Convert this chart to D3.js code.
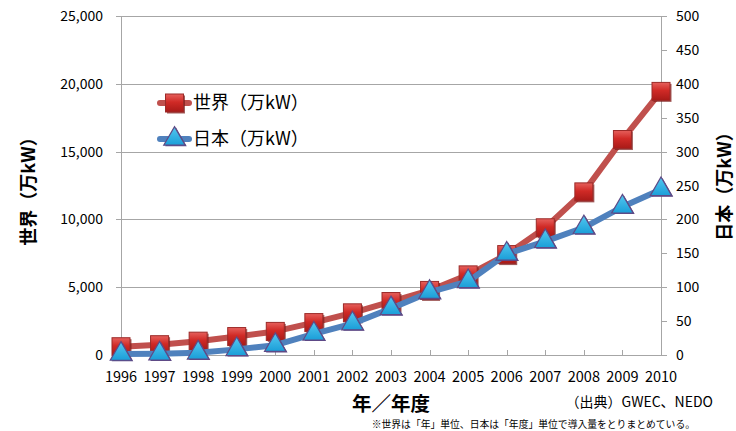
<!DOCTYPE html>
<html>
<head>
<meta charset="utf-8">
<script src="https://cdn.jsdelivr.net/npm/d3@7"></script>
<style>
  html, body { margin: 0; padding: 0; background: #fff; }
  svg { display: block; font-family: "Noto Sans CJK JP", "Noto Sans", sans-serif; }
</style>
</head>
<body>
<svg id="chart" width="736" height="431"></svg>
<script>
// 風力発電 累積導入量
const years = ["1996","1997","1998","1999","2000","2001","2002","2003","2004","2005","2006","2007","2008","2009","2010"];
const worldValues = [610, 760, 1020, 1360, 1740, 2390, 3110, 3943, 4762, 5909, 7405, 9382, 12029, 15891, 19439];
const japanValues = [1.4, 1.8, 3.2, 8.3, 14.4, 31.2, 46.3, 68.6, 92.6, 108.5, 149.1, 167.5, 188.0, 218.6, 244.2];
const leftTicks = [0, 5000, 10000, 15000, 20000, 25000];
const rightTicks = [0, 50, 100, 150, 200, 250, 300, 350, 400, 450, 500];
const worldLabel = "世界（万kW）";
const japanLabel = "日本（万kW）";

const svg = d3.select("#chart");
const plot = { left: 121, right: 661, top: 16, bottom: 355 };

const x = d3.scalePoint().domain(years).range([plot.left, plot.right]).padding(0);
const yL = d3.scaleLinear().domain([0, 25000]).range([plot.bottom, plot.top]);
const yR = d3.scaleLinear().domain([0, 500]).range([plot.bottom, plot.top]);

const defs = svg.append("defs");
const sq = defs.append("linearGradient").attr("id", "sqGrad").attr("x1", 0).attr("y1", 0).attr("x2", 0).attr("y2", 1);
sq.append("stop").attr("offset", "0%").attr("stop-color", "#e6605c");
sq.append("stop").attr("offset", "45%").attr("stop-color", "#d02a26");
sq.append("stop").attr("offset", "100%").attr("stop-color", "#a81a18");
const tri = defs.append("linearGradient").attr("id", "triGrad").attr("x1", 0).attr("y1", 0).attr("x2", 0).attr("y2", 1);
tri.append("stop").attr("offset", "0%").attr("stop-color", "#55c8f0");
tri.append("stop").attr("offset", "100%").attr("stop-color", "#1a9ed8");

// gridlines (left axis)
const gridColor = "#a6a6a6";
svg.append("g").selectAll("line").data(leftTicks).join("line")
  .attr("x1", plot.left - 5).attr("x2", plot.right)
  .attr("y1", d => Math.round(yL(d)) + 0.5).attr("y2", d => Math.round(yL(d)) + 0.5)
  .attr("stroke", gridColor).attr("stroke-width", 1);

// axis lines
svg.append("line").attr("x1", plot.left + 0.5).attr("x2", plot.left + 0.5)
  .attr("y1", plot.top).attr("y2", plot.bottom).attr("stroke", gridColor);
svg.append("line").attr("x1", plot.right + 0.5).attr("x2", plot.right + 0.5)
  .attr("y1", plot.top).attr("y2", plot.bottom).attr("stroke", gridColor);

// right axis ticks
svg.append("g").selectAll("line").data(rightTicks).join("line")
  .attr("x1", plot.right).attr("x2", plot.right + 6)
  .attr("y1", d => Math.round(yR(d)) + 0.5).attr("y2", d => Math.round(yR(d)) + 0.5)
  .attr("stroke", gridColor);

// bottom category ticks (inside)
svg.append("g").selectAll("line").data(years).join("line")
  .attr("x1", d => Math.round(x(d)) + 0.5).attr("x2", d => Math.round(x(d)) + 0.5)
  .attr("y1", plot.bottom - 5).attr("y2", plot.bottom)
  .attr("stroke", gridColor);

// tick labels
const fmt = d3.format(",");
svg.append("g").selectAll("text").data(leftTicks).join("text")
  .attr("x", 103).attr("y", d => yL(d)).attr("dy", "0.36em")
  .attr("text-anchor", "end").attr("font-size", 14).attr("fill", "#000")
  .text(d => fmt(d));
svg.append("g").selectAll("text").data(rightTicks).join("text")
  .attr("x", 676).attr("y", d => yR(d)).attr("dy", "0.36em")
  .attr("text-anchor", "start").attr("font-size", 14).attr("fill", "#000")
  .text(d => d);
svg.append("g").selectAll("text").data(years).join("text")
  .attr("x", d => x(d)).attr("y", 382)
  .attr("text-anchor", "middle").attr("font-size", 14.5).attr("fill", "#000")
  .text(d => d);

// axis titles
svg.append("text").attr("transform", "translate(35,187) rotate(-90)")
  .attr("text-anchor", "middle").attr("font-size", 18).attr("font-weight", "bold")
  .text(worldLabel);
svg.append("text").attr("transform", "translate(731,182) rotate(-90)")
  .attr("text-anchor", "middle").attr("font-size", 18).attr("font-weight", "bold")
  .text(japanLabel);
svg.append("text").attr("x", 391).attr("y", 411)
  .attr("text-anchor", "middle").attr("font-size", 19.5).attr("font-weight", "bold")
  .text("年／年度");
svg.append("text").attr("x", 713).attr("y", 407)
  .attr("text-anchor", "end").attr("font-size", 14)
  .text("（出典）GWEC、NEDO");
svg.append("text").attr("x", 695).attr("y", 428)
  .attr("text-anchor", "end").attr("font-size", 9.8)
  .text("※世界は「年」単位、日本は「年度」単位で導入量をとりまとめている。");

// series
const worldColor = "#c0504d", japanColor = "#4f81bd";
const worldPts = years.map((y, i) => [x(y), yL(worldValues[i])]);
const japanPts = years.map((y, i) => [x(y), yR(japanValues[i])]);
const line = d3.line();

const sqSize = 18;
function drawSquare(g, cx, cy) {
  g.append("rect").attr("x", cx - sqSize / 2 + 1.5).attr("y", cy - sqSize / 2 + 1.5)
    .attr("width", sqSize).attr("height", sqSize).attr("fill", "#7a1a18").attr("opacity", 0.7);
  g.append("rect").attr("x", cx - sqSize / 2).attr("y", cy - sqSize / 2)
    .attr("width", sqSize).attr("height", sqSize)
    .attr("fill", "url(#sqGrad)").attr("stroke", "#9b2a28").attr("stroke-width", 1);
}
const triPath = d3.symbol().type(d3.symbolTriangle).size(200);
function drawTri(g, cx, cy) {
  g.append("path").attr("d", triPath()).attr("transform", `translate(${cx + 1.5},${cy + 1})`)
    .attr("fill", "#5e4a86");
  g.append("path").attr("d", triPath()).attr("transform", `translate(${cx},${cy})`)
    .attr("fill", "url(#triGrad)").attr("stroke", "#5e4a86").attr("stroke-width", 1.2);
}

svg.append("path").attr("d", line(worldPts)).attr("fill", "none")
  .attr("stroke", worldColor).attr("stroke-width", 6).attr("stroke-linejoin", "round");
const gW = svg.append("g");
worldPts.forEach(p => drawSquare(gW, p[0], p[1]));

svg.append("path").attr("d", line(japanPts)).attr("fill", "none")
  .attr("stroke", japanColor).attr("stroke-width", 6).attr("stroke-linejoin", "round");
const gJ = svg.append("g");
japanPts.forEach(p => drawTri(gJ, p[0], p[1]));

// legend
const legend = [
  { label: worldLabel, color: worldColor, y: 103, marker: drawSquare },
  { label: japanLabel, color: japanColor, y: 139, marker: drawTri }
];
legend.forEach(d => {
  const g = svg.append("g");
  g.append("line").attr("x1", 160).attr("x2", 189).attr("y1", d.y).attr("y2", d.y)
    .attr("stroke", d.color).attr("stroke-width", 6).attr("stroke-linecap", "round");
  d.marker(g, 174.5, d.y);
  g.append("text").attr("x", 193).attr("y", d.y).attr("dy", "0.36em")
    .attr("font-size", 18).text(d.label);
});
</script>
</body>
</html>
